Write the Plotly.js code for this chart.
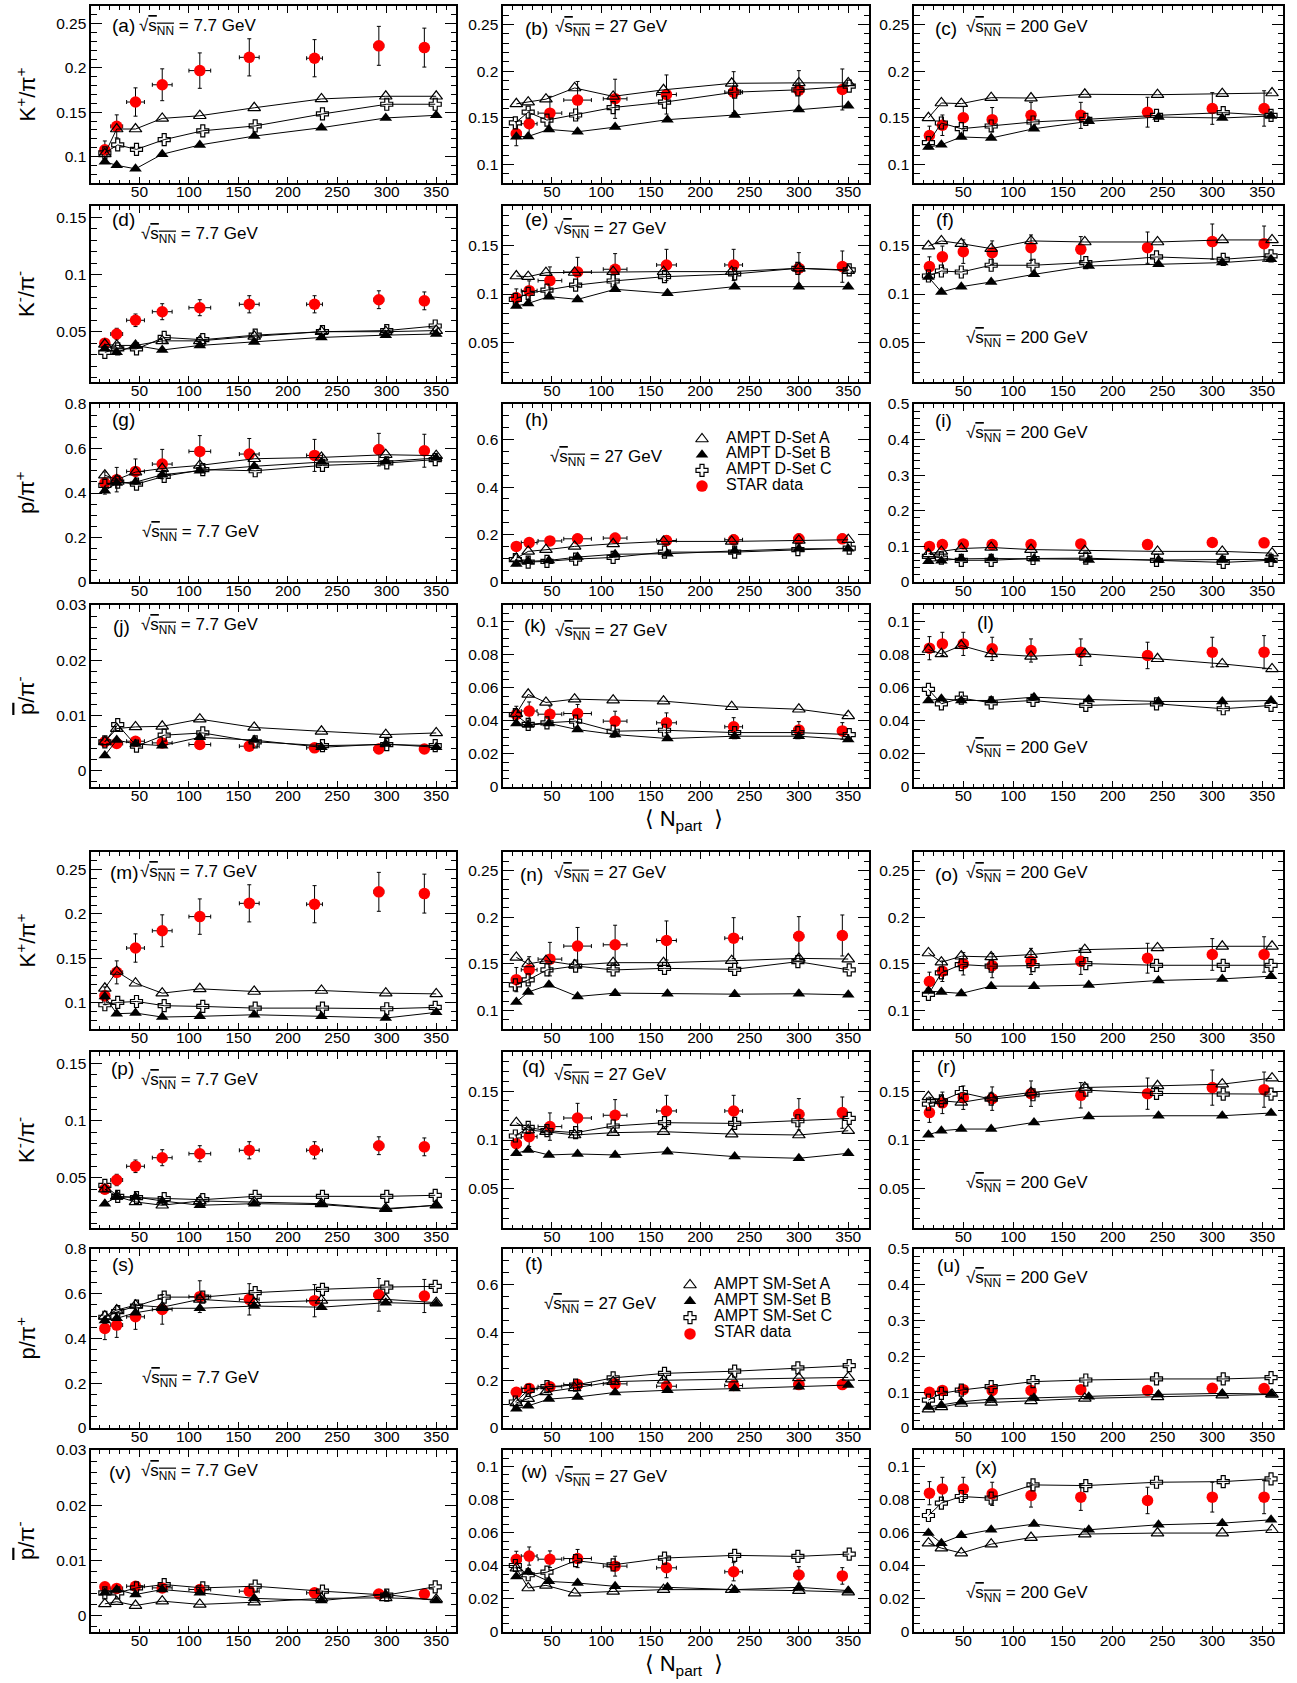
<!DOCTYPE html>
<html><head><meta charset="utf-8">
<script src="https://cdn.plot.ly/plotly-3.0.1.min.js"></script>
<style>html,body{margin:0;padding:0;background:#fff}#chart{width:1297px;height:1683px}</style>
</head><body><div id="chart"></div>
<script>
// ---------------- DATA ----------------
const energies = ['7.7', '27', '200'];
const ratioKeys = ['kp', 'km', 'pp', 'pb'];
const panelLetters = ['a','b','c','d','e','f','g','h','i','j','k','l','m','n','o','p','q','r','s','t','u','v','w','x'];
const legendLabelsD = ['AMPT D-Set A', 'AMPT D-Set B', 'AMPT D-Set C', 'STAR data'];
const legendLabelsSM = ['AMPT SM-Set A', 'AMPT SM-Set B', 'AMPT SM-Set C', 'STAR data'];

// <Npart> of STAR centrality classes and their uncertainties
const npartStar7 = [15, 27, 46, 73, 111, 161, 227, 292, 338];
const npartStar7Err = [4, 6, 9, 10, 11, 10, 8, 5, 3];
const npartStar27 = [14, 27, 48, 76, 114, 166, 234, 300, 344];
const npartStar27Err = [5, 8, 12, 14, 12, 10, 9, 5, 3];
const npartStar200 = [16, 29, 50, 79, 118, 168, 235, 300, 352];
const npartStar200Err = [2, 2, 2, 2, 2, 2, 2, 2, 2];

// <Npart> of AMPT sets
const npartA7 = [15, 27, 46, 73, 111, 166, 234, 299, 350];
const npartB7 = [15, 27, 46, 73, 111, 166, 234, 299, 350];
const npartC7 = [15, 28, 47, 75, 114, 167, 235, 300, 349];
const npartA27 = [14, 26, 44, 73, 112, 163, 232, 300, 350];
const npartB27 = [14, 26, 47, 76, 114, 167, 235, 300, 350];
const npartC27 = [13, 26, 45, 74, 112, 164, 235, 299, 351];
const npartA200 = [15, 28, 48, 78, 118, 172, 245, 310, 360];
const npartB200 = [15, 28, 48, 78, 121, 176, 246, 310, 359];
const npartC200 = [15, 28, 48, 78, 120, 173, 244, 311, 359];

// STAR data
const starKp7 = [0.1075, 0.134, 0.1615, 0.181, 0.197, 0.212, 0.211, 0.225, 0.223];
const starKp7Err = [0.010, 0.013, 0.016, 0.018, 0.020, 0.021, 0.021, 0.022, 0.022];
const starKm7 = [0.040, 0.048, 0.060, 0.0675, 0.071, 0.074, 0.074, 0.078, 0.077];
const starKm7Err = [0.004, 0.005, 0.0055, 0.007, 0.007, 0.0075, 0.0075, 0.0078, 0.0078];
const starPp7 = [0.445, 0.46, 0.497, 0.53, 0.587, 0.575, 0.569, 0.595, 0.59];
const starPp7Err = [0.05, 0.055, 0.056, 0.066, 0.071, 0.07, 0.072, 0.073, 0.074];
const starPb7 = [0.0052, 0.0049, 0.0053, 0.005, 0.0047, 0.0044, 0.0041, 0.0039, 0.0039];
const starPb7Err = [0.0004, 0.0004, 0.0004, 0.0004, 0.0004, 0.0004, 0.0004, 0.0004, 0.0004];

const starKp27 = [0.133, 0.1436, 0.155, 0.169, 0.1704, 0.175, 0.1775, 0.1796, 0.1804];
const starKp27Err = [0.013, 0.014, 0.018, 0.020, 0.021, 0.021, 0.022, 0.021, 0.022];
const starKm27 = [0.0962, 0.1034, 0.1137, 0.1225, 0.1253, 0.1297, 0.1297, 0.1263, 0.128];
const starKm27Err = [0.009, 0.010, 0.014, 0.015, 0.016, 0.016, 0.016, 0.016, 0.016];
const starPp27 = [0.15, 0.166, 0.173, 0.182, 0.185, 0.175, 0.178, 0.182, 0.182];
const starPp27Err = [0.015, 0.017, 0.018, 0.019, 0.020, 0.020, 0.020, 0.020, 0.020];
const starPb27 = [0.0438, 0.0459, 0.044, 0.0444, 0.0398, 0.0388, 0.0364, 0.0345, 0.0339];
const starPb27Err = [0.005, 0.0055, 0.005, 0.0055, 0.006, 0.006, 0.0055, 0.005, 0.005];

const starKp200 = [0.131, 0.142, 0.150, 0.148, 0.1526, 0.1526, 0.156, 0.160, 0.160];
const starKp200Err = [0.010, 0.011, 0.012, 0.013, 0.014, 0.014, 0.016, 0.017, 0.019];
const starKm200 = [0.128, 0.138, 0.1433, 0.1423, 0.1474, 0.1457, 0.1474, 0.1536, 0.1515];
const starKm200Err = [0.010, 0.011, 0.012, 0.012, 0.013, 0.013, 0.016, 0.018, 0.018];
const starPp200 = [0.100, 0.105, 0.107, 0.105, 0.105, 0.107, 0.105, 0.111, 0.110];
const starPp200Err = [0.004, 0.004, 0.004, 0.004, 0.004, 0.004, 0.004, 0.004, 0.004];
const starPb200 = [0.0839, 0.0865, 0.0865, 0.0835, 0.0825, 0.0815, 0.0795, 0.0815, 0.0815];
const starPb200Err = [0.007, 0.007, 0.007, 0.007, 0.007, 0.008, 0.008, 0.009, 0.010];

// AMPT default (D) sets
const dA_kp7 = [0.103, 0.131, 0.131, 0.143, 0.146, 0.155, 0.165, 0.168, 0.168];
const dB_kp7 = [0.094, 0.090, 0.086, 0.1025, 0.113, 0.123, 0.1325, 0.1435, 0.1465];
const dC_kp7 = [0.104, 0.113, 0.108, 0.119, 0.129, 0.1345, 0.148, 0.159, 0.159];
const dA_km7 = [0.039, 0.038, 0.038, 0.042, 0.042, 0.046, 0.050, 0.050, 0.051];
const dB_km7 = [0.035, 0.032, 0.038, 0.034, 0.038, 0.041, 0.045, 0.047, 0.048];
const dC_km7 = [0.032, 0.035, 0.035, 0.045, 0.043, 0.047, 0.050, 0.051, 0.055];
const dA_pp7 = [0.48, 0.46, 0.494, 0.51, 0.524, 0.554, 0.56, 0.572, 0.568];
const dB_pp7 = [0.41, 0.445, 0.449, 0.482, 0.50, 0.52, 0.539, 0.542, 0.557];
const dC_pp7 = [0.434, 0.449, 0.44, 0.475, 0.505, 0.50, 0.524, 0.535, 0.55];
const dA_pb7 = [0.0052, 0.0076, 0.0079, 0.008, 0.0093, 0.0078, 0.0071, 0.0065, 0.0068];
const dB_pb7 = [0.0027, 0.0055, 0.0048, 0.0045, 0.006, 0.0055, 0.0042, 0.0048, 0.0042];
const dC_pb7 = [0.0052, 0.0083, 0.0044, 0.0064, 0.0068, 0.0052, 0.0045, 0.0047, 0.0045];

const dA_kp27 = [0.165, 0.1668, 0.170, 0.182, 0.173, 0.180, 0.187, 0.1875, 0.1875];
const dB_kp27 = [0.1296, 0.130, 0.1375, 0.135, 0.140, 0.148, 0.153, 0.159, 0.163];
const dC_kp27 = [0.1446, 0.156, 0.1475, 0.153, 0.161, 0.1668, 0.1775, 0.180, 0.184];
const dA_km27 = [0.1184, 0.1177, 0.1218, 0.122, 0.1229, 0.1229, 0.1229, 0.1263, 0.124];
const dB_km27 = [0.0877, 0.0904, 0.0973, 0.0945, 0.1048, 0.1007, 0.1075, 0.1075, 0.1075];
const dC_km27 = [0.0945, 0.1007, 0.104, 0.109, 0.1133, 0.1177, 0.1205, 0.1263, 0.1246];
const dA_pp27 = [0.100, 0.129, 0.136, 0.150, 0.161, 0.171, 0.171, 0.175, 0.178];
const dB_pp27 = [0.0755, 0.087, 0.091, 0.105, 0.117, 0.119, 0.131, 0.140, 0.140];
const dC_pp27 = [0.094, 0.084, 0.087, 0.0965, 0.1035, 0.126, 0.126, 0.136, 0.143];
const dA_pb27 = [0.0444, 0.056, 0.0511, 0.0531, 0.0525, 0.0519, 0.0485, 0.047, 0.043];
const dB_pb27 = [0.0384, 0.0374, 0.0384, 0.0347, 0.0317, 0.0293, 0.0307, 0.0307, 0.0287];
const dC_pb27 = [0.0438, 0.0378, 0.0388, 0.0398, 0.0337, 0.0343, 0.0329, 0.0329, 0.0317];

const dA_kp200 = [0.150, 0.1659, 0.1652, 0.1716, 0.1712, 0.1752, 0.1748, 0.1759, 0.1766];
const dB_kp200 = [0.1186, 0.1211, 0.1294, 0.1283, 0.1383, 0.1462, 0.1508, 0.1498, 0.1519];
const dC_kp200 = [0.1233, 0.1444, 0.1383, 0.1412, 0.1455, 0.1483, 0.1526, 0.1555, 0.1526];
const dA_km200 = [0.149, 0.1543, 0.1515, 0.1464, 0.1543, 0.1532, 0.1532, 0.1553, 0.1553];
const dB_km200 = [0.1174, 0.102, 0.1075, 0.1123, 0.1201, 0.1287, 0.1304, 0.1321, 0.1355];
const dC_km200 = [0.1184, 0.1235, 0.1225, 0.1294, 0.1294, 0.1321, 0.1379, 0.1355, 0.1389];
const dA_pp200 = [0.079, 0.086, 0.094, 0.097, 0.091, 0.088, 0.086, 0.086, 0.081];
const dB_pp200 = [0.058, 0.060, 0.065, 0.066, 0.065, 0.062, 0.062, 0.063, 0.063];
const dC_pp200 = [0.072, 0.067, 0.061, 0.061, 0.066, 0.067, 0.061, 0.055, 0.061];
const dA_pb200 = [0.0831, 0.0805, 0.0855, 0.0805, 0.079, 0.0805, 0.0775, 0.0744, 0.0714];
const dB_pb200 = [0.0523, 0.0533, 0.0523, 0.0523, 0.0543, 0.0529, 0.0517, 0.0517, 0.0523];
const dC_pb200 = [0.059, 0.0503, 0.0537, 0.0509, 0.0523, 0.0493, 0.0503, 0.0473, 0.0493];

// AMPT string melting (SM) sets
const sA_kp7 = [0.116, 0.135, 0.1217, 0.1105, 0.1154, 0.1124, 0.1135, 0.1105, 0.1097];
const sB_kp7 = [0.1067, 0.0873, 0.088, 0.0835, 0.0843, 0.0861, 0.0843, 0.0824, 0.0888];
const sC_kp7 = [0.0974, 0.100, 0.1011, 0.0963, 0.0955, 0.0936, 0.0936, 0.0929, 0.0944];
const sA_km7 = [0.040, 0.0337, 0.0288, 0.0259, 0.0297, 0.0288, 0.0273, 0.023, 0.0259];
const sB_km7 = [0.0273, 0.0331, 0.0331, 0.0297, 0.0259, 0.0273, 0.0265, 0.0224, 0.0259];
const sC_km7 = [0.0433, 0.0337, 0.0326, 0.0317, 0.0308, 0.0337, 0.0337, 0.0337, 0.0346];
const sA_pp7 = [0.50, 0.527, 0.549, 0.54, 0.575, 0.56, 0.57, 0.575, 0.56];
const sB_pp7 = [0.48, 0.49, 0.515, 0.535, 0.535, 0.545, 0.54, 0.56, 0.555];
const sC_pp7 = [0.495, 0.52, 0.545, 0.585, 0.585, 0.605, 0.62, 0.63, 0.633];
const sA_pb7 = [0.0021, 0.0025, 0.0018, 0.0026, 0.002, 0.0024, 0.0031, 0.0032, 0.0029];
const sB_pb7 = [0.0041, 0.0047, 0.0038, 0.0047, 0.0041, 0.0031, 0.0027, 0.0038, 0.0027];
const sC_pb7 = [0.0041, 0.0041, 0.005, 0.0056, 0.005, 0.0053, 0.0044, 0.0037, 0.0052];

const sA_kp27 = [0.1569, 0.1498, 0.1533, 0.1487, 0.1512, 0.1512, 0.1533, 0.1558, 0.1551];
const sB_kp27 = [0.1089, 0.1196, 0.1274, 0.1149, 0.1185, 0.1178, 0.1174, 0.1178, 0.1167];
const sC_kp27 = [0.1274, 0.1327, 0.1434, 0.1476, 0.1434, 0.1451, 0.1441, 0.1523, 0.1434];
const sA_km27 = [0.1177, 0.1102, 0.1085, 0.1051, 0.1075, 0.1085, 0.1061, 0.1051, 0.1095];
const sB_km27 = [0.0864, 0.0898, 0.0847, 0.0857, 0.0847, 0.0881, 0.083, 0.0813, 0.0864];
const sC_km27 = [0.1041, 0.1129, 0.1095, 0.1075, 0.1143, 0.1177, 0.117, 0.1197, 0.1221];
const sA_pp27 = [0.105, 0.123, 0.151, 0.168, 0.194, 0.200, 0.205, 0.210, 0.212];
const sB_pp27 = [0.081, 0.093, 0.121, 0.130, 0.149, 0.158, 0.165, 0.173, 0.180];
const sC_pp27 = [0.109, 0.158, 0.173, 0.180, 0.210, 0.229, 0.238, 0.252, 0.261];
const sA_pb27 = [0.0386, 0.0266, 0.0282, 0.0235, 0.0245, 0.0256, 0.0256, 0.025, 0.0241];
const sB_pb27 = [0.0336, 0.0362, 0.0306, 0.0296, 0.0276, 0.027, 0.0256, 0.027, 0.025];
const sC_pb27 = [0.0402, 0.0346, 0.0362, 0.0431, 0.0406, 0.0447, 0.0463, 0.0457, 0.0471];

const sA_kp200 = [0.1616, 0.1517, 0.1581, 0.1574, 0.1599, 0.1652, 0.167, 0.1688, 0.1688];
const sB_kp200 = [0.1207, 0.1196, 0.1182, 0.126, 0.126, 0.1271, 0.1321, 0.1338, 0.1367];
const sC_kp200 = [0.1171, 0.1403, 0.1492, 0.1474, 0.1481, 0.1502, 0.1484, 0.1484, 0.1484];
const sA_km200 = [0.1442, 0.1401, 0.1384, 0.1435, 0.1486, 0.1537, 0.1554, 0.1571, 0.1633];
const sB_km200 = [0.1054, 0.1095, 0.1112, 0.1112, 0.118, 0.1241, 0.1248, 0.1248, 0.1276];
const sC_km200 = [0.1367, 0.1401, 0.1486, 0.1418, 0.1463, 0.151, 0.1476, 0.1469, 0.1469];
const sA_pp200 = [0.0525, 0.059, 0.0685, 0.0713, 0.076, 0.0826, 0.0872, 0.0919, 0.0938];
const sB_pp200 = [0.059, 0.0638, 0.0732, 0.0807, 0.0844, 0.0872, 0.0938, 0.0966, 0.0947];
const sC_pp200 = [0.0779, 0.0966, 0.106, 0.1154, 0.1295, 0.1341, 0.137, 0.137, 0.1407];
const sA_pb200 = [0.0537, 0.0507, 0.0477, 0.0531, 0.0571, 0.0592, 0.0598, 0.0598, 0.0618];
const sB_pb200 = [0.0598, 0.0537, 0.0584, 0.0618, 0.0652, 0.0618, 0.0648, 0.0658, 0.0678];
const sC_pb200 = [0.0704, 0.0779, 0.0819, 0.0809, 0.0889, 0.0885, 0.0905, 0.0909, 0.0926];

// ---------------- lookup tables built from the arrays ----------------
const npartStar = {'7.7': [npartStar7, npartStar7Err], '27': [npartStar27, npartStar27Err], '200': [npartStar200, npartStar200Err]};
const npartAmpt = {'7.7': [npartA7, npartB7, npartC7], '27': [npartA27, npartB27, npartC27], '200': [npartA200, npartB200, npartC200]};
const star = {
  kp: {'7.7': [starKp7, starKp7Err], '27': [starKp27, starKp27Err], '200': [starKp200, starKp200Err]},
  km: {'7.7': [starKm7, starKm7Err], '27': [starKm27, starKm27Err], '200': [starKm200, starKm200Err]},
  pp: {'7.7': [starPp7, starPp7Err], '27': [starPp27, starPp27Err], '200': [starPp200, starPp200Err]},
  pb: {'7.7': [starPb7, starPb7Err], '27': [starPb27, starPb27Err], '200': [starPb200, starPb200Err]}
};
const ampt = {
  D: {
    kp: {'7.7': [dA_kp7, dB_kp7, dC_kp7], '27': [dA_kp27, dB_kp27, dC_kp27], '200': [dA_kp200, dB_kp200, dC_kp200]},
    km: {'7.7': [dA_km7, dB_km7, dC_km7], '27': [dA_km27, dB_km27, dC_km27], '200': [dA_km200, dB_km200, dC_km200]},
    pp: {'7.7': [dA_pp7, dB_pp7, dC_pp7], '27': [dA_pp27, dB_pp27, dC_pp27], '200': [dA_pp200, dB_pp200, dC_pp200]},
    pb: {'7.7': [dA_pb7, dB_pb7, dC_pb7], '27': [dA_pb27, dB_pb27, dC_pb27], '200': [dA_pb200, dB_pb200, dC_pb200]}
  },
  SM: {
    kp: {'7.7': [sA_kp7, sB_kp7, sC_kp7], '27': [sA_kp27, sB_kp27, sC_kp27], '200': [sA_kp200, sB_kp200, sC_kp200]},
    km: {'7.7': [sA_km7, sB_km7, sC_km7], '27': [sA_km27, sB_km27, sC_km27], '200': [sA_km200, sB_km200, sC_km200]},
    pp: {'7.7': [sA_pp7, sB_pp7, sC_pp7], '27': [sA_pp27, sB_pp27, sC_pp27], '200': [sA_pp200, sB_pp200, sC_pp200]},
    pb: {'7.7': [sA_pb7, sB_pb7, sC_pb7], '27': [sA_pb27, sB_pb27, sC_pb27], '200': [sA_pb200, sB_pb200, sC_pb200]}
  }
};

// ---------------- styling / layout ----------------
const FONT = 'Liberation Sans, Arial, Helvetica, DejaVu Sans, sans-serif';
const W = 1297, H = 1683;
const colPx = [[91, 456], [503, 869], [914, 1283]];
const rowPx = [[6, 183], [206, 382], [404, 582], [605, 787], [852, 1029], [1052, 1228], [1249, 1428], [1450, 1632]];
const px2x = p => p / W;
const px2y = p => 1 - p / H;
const OV = s => '<span style="text-decoration:overline">' + s + '</span>';

const yTitles = ['K<sup>+</sup>/π<sup>+</sup>', 'K<sup>-</sup>/π<sup>-</sup>', 'p/π<sup>+</sup>', OV('p') + '/π<sup>-</sup>'];
const yRange = {
  kp: [[0.07, 0.27], [0.08, 0.27], [0.08, 0.27]],
  km: [[0.006, 0.16], [0.01, 0.19], [0.01, 0.19]],
  pp: [[0, 0.8], [0, 0.75], [0, 0.5]],
  pb: [[-0.003, 0.03], [0, 0.11], [0, 0.11]]
};
const yDtick = {
  kp: [[0.05, 0.01], [0.05, 0.01], [0.05, 0.01]],
  km: [[0.05, 0.01], [0.05, 0.01], [0.05, 0.01]],
  pp: [[0.2, 0.05], [0.2, 0.05], [0.1, 0.02]],
  pb: [[0.01, 0.002], [0.02, 0.005], [0.02, 0.005]]
};
// annotation offsets (px from panel top-left): [dx, dy-center]
const labelOff = [[19,20],[20,22],[19,22],[19,14],[20,14],[20,14],[19,16],[20,16],[19,17],[20,21],[19,20],[61,17],
                  [17,20],[15,22],[19,22],[18,16],[17,14],[21,14],[19,15],[20,14],[21,16],[16,22],[16,21],[59,17]];
const energyOff = [[46,21],[50,22],[50,22],[48,29],[49,24],[50,132.5],[49,128.5],[45,54],[50,30],[48,21],[50,27],[50,144],
                   [47,21],[49,22],[50,22],[48,29],[49,24],[50,132],[49,130],[39,56],[50,30],[48,22],[50,28],[50,144]];

const amptStyle = [
  {symbol: 'triangle-up-open', size: 11, color: 'black', line: {color: 'black', width: 1.2}},
  {symbol: 'triangle-up', size: 11, color: 'black', line: {width: 0}},
  {symbol: 'cross-open', size: 10, color: 'black', line: {color: 'black', width: 1.2}}
];
const starStyle = {symbol: 'circle', size: 11.5, color: '#ff0000', line: {width: 0}};

const tickFont = {family: FONT, size: 15.5, color: 'black'};
const layout = {
  width: W, height: H, margin: {l: 0, r: 0, t: 0, b: 0},
  paper_bgcolor: 'white', plot_bgcolor: 'rgba(0,0,0,0)', showlegend: false,
  font: {family: FONT, color: 'black'}, annotations: []
};
const data = [];

for (let r = 0; r < 8; r++) {
  for (let c = 0; c < 3; c++) {
    const k = r * 3 + c + 1;
    const sfx = k === 1 ? '' : String(k);
    const ratio = ratioKeys[r % 4];
    const set = r < 4 ? 'D' : 'SM';
    const e = energies[c];
    const [x0, x1] = colPx[c];
    const [yt, yb] = rowPx[r];
    layout['xaxis' + sfx] = {
      domain: [px2x(x0), px2x(x1)], anchor: 'y' + sfx,
      range: c === 0 ? [1, 370] : [0.5, 371], tick0: 0, dtick: 50,
      ticks: 'inside', ticklen: 6.5, tickwidth: 1, tickcolor: 'black', ticklabelstandoff: -6,
      showline: true, linewidth: 1.6, linecolor: 'black', mirror: 'ticks',
      showgrid: false, zeroline: false, tickfont: tickFont, fixedrange: true,
      minor: {dtick: 10, ticks: 'inside', ticklen: 3.5, tickwidth: 1, tickcolor: 'black', showgrid: false}
    };
    const [dMaj, dMin] = yDtick[ratio][c];
    layout['yaxis' + sfx] = {
      domain: [px2y(yb), px2y(yt)], anchor: 'x' + sfx,
      range: yRange[ratio][c], tick0: 0, dtick: dMaj,
      ticks: 'inside', ticklen: 11, tickwidth: 1, tickcolor: 'black',
      showline: true, linewidth: 1.6, linecolor: 'black', mirror: 'ticks',
      showgrid: false, zeroline: false, tickfont: tickFont, fixedrange: true,
      minor: {dtick: dMin, ticks: 'inside', ticklen: 5.5, tickwidth: 1, tickcolor: 'black', showgrid: false}
    };
    // STAR data
    const [sy, sErr] = star[ratio][e];
    const [sx, sxErr] = npartStar[e];
    data.push({
      type: 'scatter', mode: 'markers', x: sx, y: sy, xaxis: 'x' + sfx, yaxis: 'y' + sfx,
      marker: starStyle, hoverinfo: 'skip',
      error_y: {type: 'data', array: sErr, visible: true, color: 'black', thickness: 1, width: 2},
      error_x: {type: 'data', array: sxErr, visible: true, color: 'black', thickness: 1, width: 2}
    });
    // AMPT sets
    const sets = ampt[set][ratio][e];
    const xs = npartAmpt[e];
    for (let s = 0; s < 3; s++) {
      data.push({
        type: 'scatter', mode: 'lines+markers', x: xs[s], y: sets[s], xaxis: 'x' + sfx, yaxis: 'y' + sfx,
        line: {color: 'black', width: 1}, marker: amptStyle[s], hoverinfo: 'skip'
      });
    }
    // panel label and energy label
    const lo = labelOff[k - 1], eo = energyOff[k - 1];
    layout.annotations.push({
      xref: 'paper', yref: 'paper', x: px2x(x0 + lo[0]), y: px2y(yt + lo[1]), xanchor: 'left', yanchor: 'middle',
      text: '(' + panelLetters[k - 1] + ')', showarrow: false, font: {family: FONT, size: 19, color: 'black'}
    });
    layout.annotations.push({
      xref: 'paper', yref: 'paper', x: px2x(x0 + eo[0]), y: px2y(yt + eo[1]), xanchor: 'left', yanchor: 'middle',
      text: '√' + OV('s<sub>NN</sub>') + ' = ' + e + ' GeV', showarrow: false, font: {family: FONT, size: 17, color: 'black'}
    });
    if (c === 0) {
      layout.annotations.push({
        xref: 'paper', yref: 'paper', x: px2x(25), y: px2y((yt + yb) / 2), xanchor: 'center', yanchor: 'middle',
        textangle: -90, text: yTitles[r % 4], showarrow: false, font: {family: FONT, size: 22, color: 'black'}
      });
    }
  }
}

// x-axis titles
[820, 1665].forEach(py => layout.annotations.push({
  xref: 'paper', yref: 'paper', x: px2x(684), y: px2y(py), xanchor: 'center', yanchor: 'middle',
  text: '⟨ N<sub>part</sub>  ⟩', showarrow: false, font: {family: FONT, size: 22, color: 'black'}
}));

// legends (drawn inside panels h and t, on pixel-unit overlay axes)
const legends = [
  {labels: legendLabelsD, row: 2, markerX: 702, textX: 724, firstY: 437, step: 15.7, ax: 25},
  {labels: legendLabelsSM, row: 6, markerX: 690, textX: 712, firstY: 1283, step: 16.3, ax: 26}
];
legends.forEach(L => {
  const [yt, yb] = rowPx[L.row];
  const [x0, x1] = colPx[1];
  layout['xaxis' + L.ax] = {domain: [px2x(x0), px2x(x1)], range: [x0, x1], visible: false, anchor: 'y' + L.ax, fixedrange: true};
  layout['yaxis' + L.ax] = {domain: [px2y(yb), px2y(yt)], range: [yb, yt], visible: false, anchor: 'x' + L.ax, fixedrange: true};
  const styles = [amptStyle[0], amptStyle[1], amptStyle[2], starStyle];
  L.labels.forEach((lab, i) => {
    const rowY = L.firstY + i * L.step;
    data.push({
      type: 'scatter', mode: 'markers', x: [L.markerX], y: [rowY + 2], xaxis: 'x' + L.ax, yaxis: 'y' + L.ax,
      marker: styles[i], hoverinfo: 'skip', cliponaxis: false
    });
    layout.annotations.push({
      xref: 'paper', yref: 'paper', x: px2x(L.textX), y: px2y(rowY), xanchor: 'left', yanchor: 'middle',
      text: lab, showarrow: false, font: {family: FONT, size: 16, color: 'black'}
    });
  });
});

Plotly.newPlot('chart', data, layout, {displayModeBar: false, staticPlot: true});
</script></body></html>
